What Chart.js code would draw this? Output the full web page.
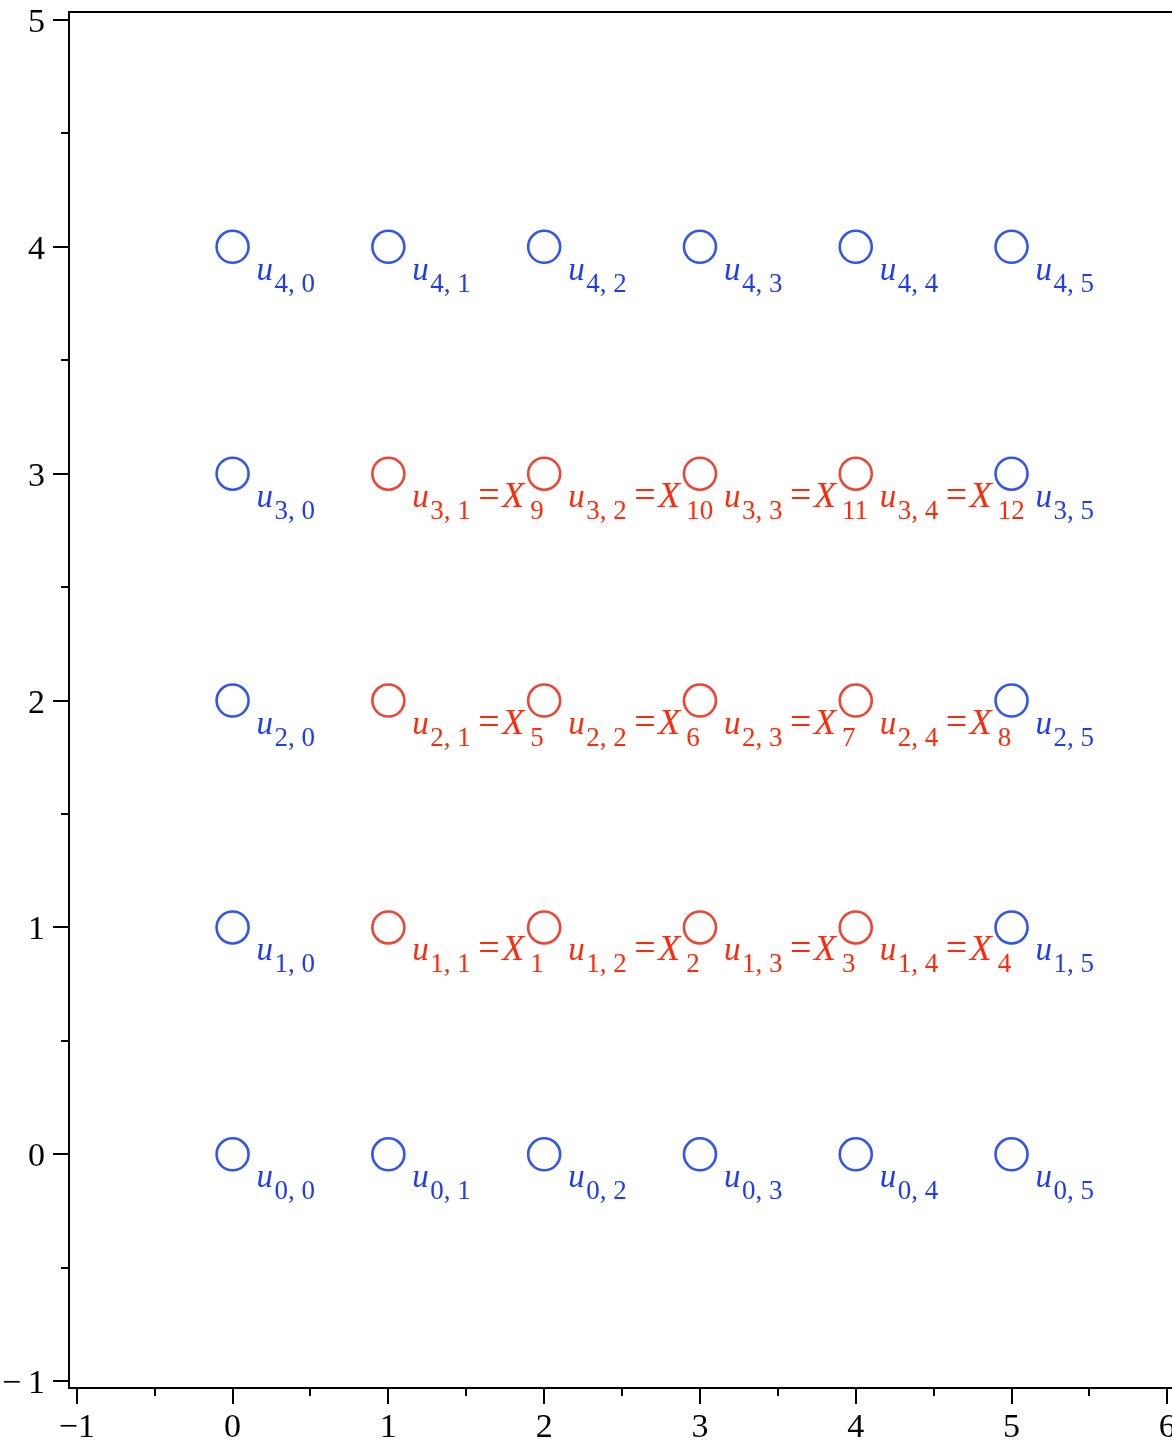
<!DOCTYPE html>
<html>
<head>
<meta charset="utf-8">
<script src="https://cdn.jsdelivr.net/npm/chart.js@4"></script>
<style>
  html, body { margin: 0; padding: 0; background: #fff; }
  #wrap { width: 1172px; height: 1440px; }
</style>
</head>
<body>
<div id="wrap"><canvas id="c" width="1172" height="1440"></canvas></div>
<script>
// grid nodes u[row, col]; boundary nodes are blue, unknowns are red
const boundaryX = [0, 1, 2, 3, 4, 5, 0, 5, 0, 5, 0, 5, 0, 1, 2, 3, 4, 5];
const boundaryY = [0, 0, 0, 0, 0, 0, 1, 1, 2, 2, 3, 3, 4, 4, 4, 4, 4, 4];
const interiorX = [1, 2, 3, 4, 1, 2, 3, 4, 1, 2, 3, 4];
const interiorY = [1, 1, 1, 1, 2, 2, 2, 2, 3, 3, 3, 3];
const interiorIndex = [1, 2, 3, 4, 5, 6, 7, 8, 9, 10, 11, 12];

const xTicks = [-1, 0, 1, 2, 3, 4, 5, 6];
const xTickLabels = ["\u22121", "0", "1", "2", "3", "4", "5", "6"];
const yTicks = [-1, 0, 1, 2, 3, 4, 5];
const yTickLabels = ["\u2212\u20091", "0", "1", "2", "3", "4", "5"];

const BLUE_PT = "#3355ee", BLUE_TXT = "#1f3cf2";
const RED_PT = "#ee4433", RED_TXT = "#ff2a0a";
const SERIF = "'Liberation Serif', 'Times New Roman', serif";

const pts = (xs, ys) => xs.map((x, i) => ({ x: x, y: ys[i] }));

// Maple-style frame: left + top + bottom lines, outward ticks, tick labels
const framePlugin = {
  id: "frame",
  afterDraw(chart) {
    const { ctx, chartArea: a, scales: { x, y } } = chart;
    ctx.save();
    ctx.strokeStyle = "#000";
    ctx.lineWidth = 2;
    ctx.beginPath();
    ctx.moveTo(chart.width, a.top); ctx.lineTo(a.left, a.top);
    ctx.lineTo(a.left, a.bottom); ctx.lineTo(chart.width, a.bottom);
    ctx.stroke();
    ctx.beginPath();
    for (let v = -1; v <= 6; v += 0.5) {
      const px = Math.round(x.getPixelForValue(v));
      const len = Number.isInteger(v) ? 16 : 8;
      ctx.moveTo(px, a.bottom); ctx.lineTo(px, a.bottom + len);
    }
    for (let v = -1; v <= 5; v += 0.5) {
      const py = Math.round(y.getPixelForValue(v));
      const len = Number.isInteger(v) ? 16 : 8;
      ctx.moveTo(a.left, py); ctx.lineTo(a.left - len, py);
    }
    ctx.stroke();

    ctx.fillStyle = "#000";
    ctx.font = "34px " + SERIF;
    ctx.textBaseline = "alphabetic";
    ctx.textAlign = "center";
    xTicks.forEach((v, i) => ctx.fillText(xTickLabels[i], x.getPixelForValue(v), a.bottom + 49));
    ctx.textAlign = "right";
    yTicks.forEach((v, i) => ctx.fillText(yTickLabels[i], 45, y.getPixelForValue(v) + 12));
    ctx.restore();
  }
};

// u_{r, c} (= X_n) labels next to each node
const labelPlugin = {
  id: "nodeLabels",
  beforeDatasetsDraw(chart) {
    const ctx = chart.ctx;
    ctx.save();
    ctx.textBaseline = "alphabetic";
    ctx.textAlign = "left";
    chart.data.datasets.forEach((ds, di) => {
      const meta = chart.getDatasetMeta(di);
      ctx.fillStyle = ds.textColor;
      meta.data.forEach((el, i) => {
        const d = ds.data[i];
        const px = el.x, base = el.y + 33, sub = el.y + 45;
        ctx.font = "italic 33px " + SERIF;
        ctx.fillText("u", px + 24, base);
        ctx.font = "27px " + SERIF;
        ctx.fillText(d.y + ", " + d.x, px + 42, sub);
        if (ds.xIndex) {
          ctx.font = "38px " + SERIF;
          ctx.fillText("=", px + 90, base);
          ctx.font = "italic 36px " + SERIF;
          ctx.fillText("X", px + 114, base);
          ctx.font = "27px " + SERIF;
          ctx.fillText(String(ds.xIndex[i]), px + 142, sub);
        }
      });
    });
    ctx.restore();
  }
};

new Chart(document.getElementById("c"), {
  type: "scatter",
  data: {
    datasets: [
      { data: pts(boundaryX, boundaryY), borderColor: BLUE_PT, textColor: BLUE_TXT,
        backgroundColor: "rgba(0,0,0,0)", pointRadius: 16, borderWidth: 2.6 },
      { data: pts(interiorX, interiorY), borderColor: RED_PT, textColor: RED_TXT,
        xIndex: interiorIndex,
        backgroundColor: "rgba(0,0,0,0)", pointRadius: 16, borderWidth: 2.6 }
    ]
  },
  options: {
    responsive: false, animation: false,
    layout: { padding: { top: 12, right: 0, left: 0, bottom: 0 }, autoPadding: false },
    plugins: { legend: { display: false }, tooltip: { enabled: false } },
    scales: {
      x: {
        type: "linear", min: -1.05, max: 6.03,
        grid: { display: false, drawTicks: false }, border: { display: false },
        ticks: { display: false },
        afterFit: s => { s.height = 52; s.paddingLeft = 0; s.paddingRight = 0; }
      },
      y: {
        type: "linear", min: -1.03, max: 5.035,
        grid: { display: false, drawTicks: false }, border: { display: false },
        ticks: { display: false },
        afterFit: s => { s.width = 69; s.paddingTop = 0; s.paddingBottom = 0; }
      }
    }
  },
  plugins: [labelPlugin, framePlugin]
});
</script>
</body>
</html>
